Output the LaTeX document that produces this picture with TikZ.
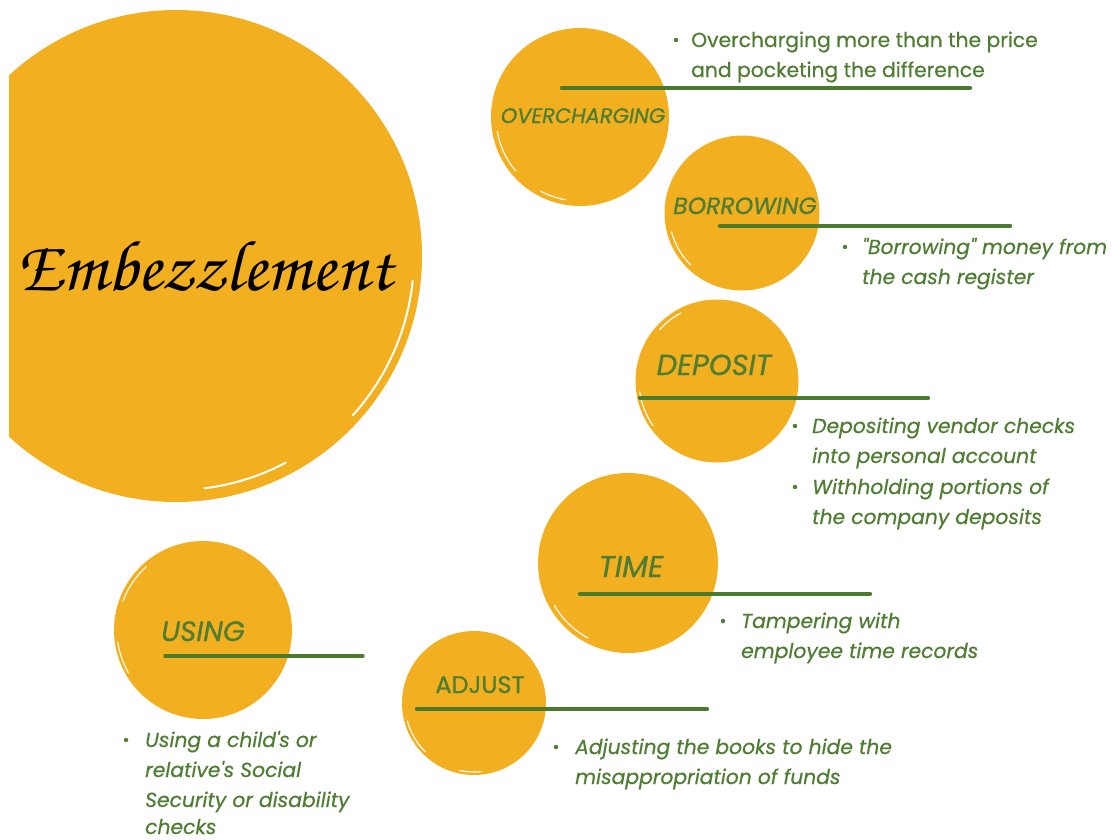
\documentclass[tikz,border=0pt]{standalone}
\usepackage[T1]{fontenc}
\usepackage{fontspec}
\setmainfont{Poppins}
\newfontfamily\bodyfont{Poppins}[FakeBold=0.6]
\newfontfamily\lblfont{Poppins}[FakeBold=0.8]
\definecolor{orng}{HTML}{F2AF1F}
\definecolor{grn}{HTML}{4A7A2B}
\definecolor{txtgrn}{HTML}{4F7D33}
\tikzset{
  blob/.style={circle, fill=orng, inner sep=0pt},
  lbl/.style={text=txtgrn, anchor=base, inner sep=0pt},
  brush/.style={draw=grn, line width=4.4pt, line cap=round},
  body/.style={text=txtgrn, font=\bodyfont\itshape\fontsize{20.3}{30}\selectfont, anchor=base west, inner sep=0pt},
  bodyup/.style={text=txtgrn, font=\bodyfont\fontsize{20.3}{30}\selectfont, anchor=base west, inner sep=0pt},
  dot/.style={circle, fill=txtgrn, inner sep=0pt, minimum size=4.5pt},
  scratch/.style={draw=white, line width=1.1pt, line cap=round}
}
\newcommand{\lblsize}[1]{\lblfont\itshape\fontsize{#1}{#1}\selectfont}
\begin{document}
\begin{tikzpicture}[x=1pt,y=-1pt]
\useasboundingbox (0,0) rectangle (1112,839);
% big circle
\begin{scope}
  \clip (9,0) rectangle (1112,839);
  \fill[orng] (176,256) circle (246);
\end{scope}
\coordinate (bigc) at (176,256);
\draw[scratch, line width=2pt] (bigc) ++(6:238) arc[start angle=6, end angle=42, radius=238];
\draw[scratch, line width=2pt] (bigc) ++(83:234) arc[start angle=83, end angle=62, radius=234];
\node[font=\usefont{T1}{pzc}{mb}{it}\fontsize{72}{80}\selectfont, anchor=base, inner sep=0pt] (title) at (205,290) {Embezzlement};

% small circles
\node[blob, minimum size=178pt] (ovc) at (580,117) {};
\node[blob, minimum size=155pt] (boc) at (742,213) {};
\node[blob, minimum size=163pt] (dec) at (717,381) {};
\node[blob, minimum size=180pt] (tic) at (628,563) {};
\node[blob, minimum size=178pt] (usc) at (203,630) {};
\node[blob, minimum size=144pt] (adc) at (474,703) {};

% scratches on small circles
\draw[scratch] (ovc.center) ++(170:84) arc[start angle=170, end angle=140, radius=84];
\draw[scratch] (ovc.center) ++(118:84) arc[start angle=118, end angle=100, radius=84];
\draw[scratch] (boc.center) ++(165:73) arc[start angle=165, end angle=135, radius=73];
\draw[scratch] (dec.center) ++(222:77) arc[start angle=222, end angle=242, radius=77];
\draw[scratch] (dec.center) ++(172:78) arc[start angle=172, end angle=145, radius=78];
\draw[scratch] (tic.center) ++(150:85) arc[start angle=150, end angle=118, radius=85];
\draw[scratch] (usc.center) ++(200:85) arc[start angle=200, end angle=228, radius=85];
\draw[scratch] (usc.center) ++(172:86) arc[start angle=172, end angle=150, radius=86];
\draw[scratch] (adc.center) ++(165:69) arc[start angle=165, end angle=135, radius=69];
\draw[scratch] (adc.center) ++(102:69) arc[start angle=102, end angle=84, radius=69];

% labels
\node[lbl, font=\lblsize{21}] (ovl) at (583,123) {OVERCHARGING};
\node[lbl, font=\lblsize{23.5}] (bol) at (745,214) {BORROWING};
\node[lbl, font=\lblsize{29}] (del) at (714,375) {DEPOSIT};
\node[lbl, font=\lblsize{30}] (til) at (631,577) {TIME};
\node[lbl, font=\lblsize{28}] (usl) at (203,641) {USING};
\node[lbl, font=\lblfont\fontsize{24}{24}\selectfont] (adl) at (480,693) {ADJUST};

% brush lines
\coordinate (ovA) at (562,88);  \coordinate (ovB) at (970,88);
\coordinate (boA) at (720,226); \coordinate (boB) at (1010,226);
\coordinate (deA) at (640,398); \coordinate (deB) at (928,398);
\coordinate (tiA) at (580,594); \coordinate (tiB) at (870,594);
\coordinate (usA) at (165,656); \coordinate (usB) at (363,656);
\coordinate (adA) at (417,709); \coordinate (adB) at (707,709);
\draw[brush] (ovA) -- (ovB);
\draw[brush] (boA) -- (boB);
\draw[brush] (deA) -- (deB);
\draw[brush] (tiA) -- (tiB);
\draw[brush, line width=3.4pt] (usA) -- (usB);
\draw[brush] (adA) -- (adB);

% bullet texts
\node[dot] (ovd) at (676,40) {};
\node[bodyup] (ov1) at (691,47) {Overcharging more than the price};
\node[bodyup] (ov2) at (691,77) {and pocketing the difference};

\node[dot] (bod) at (845,247) {};
\node[body] (bo1) at (862,254) {"Borrowing" money from};
\node[body] (bo2) at (862,284) {the cash register};

\node[dot] (ded1) at (795,426) {};
\node[body] (de1) at (812,433) {Depositing vendor checks};
\node[body] (de2) at (812,463) {into personal account};
\node[dot] (ded2) at (795,487) {};
\node[body] (de3) at (812,494) {Withholding portions of};
\node[body] (de4) at (812,524) {the company deposits};

\node[dot] (tid) at (723,621) {};
\node[body] (ti1) at (741,628) {Tampering with};
\node[body] (ti2) at (741,658) {employee time records};

\node[dot] (add) at (556,747) {};
\node[body] (ad1) at (575,754) {Adjusting the books to hide the};
\node[body] (ad2) at (575,784) {misappropriation of funds};

\node[dot] (usd) at (126,740) {};
\node[body] (us1) at (145,747) {Using a child's or};
\node[body] (us2) at (145,777) {relative's Social};
\node[body] (us3) at (145,807) {Security or disability};
\node[body] (us4) at (145,834) {checks};
\end{tikzpicture}
\end{document}
